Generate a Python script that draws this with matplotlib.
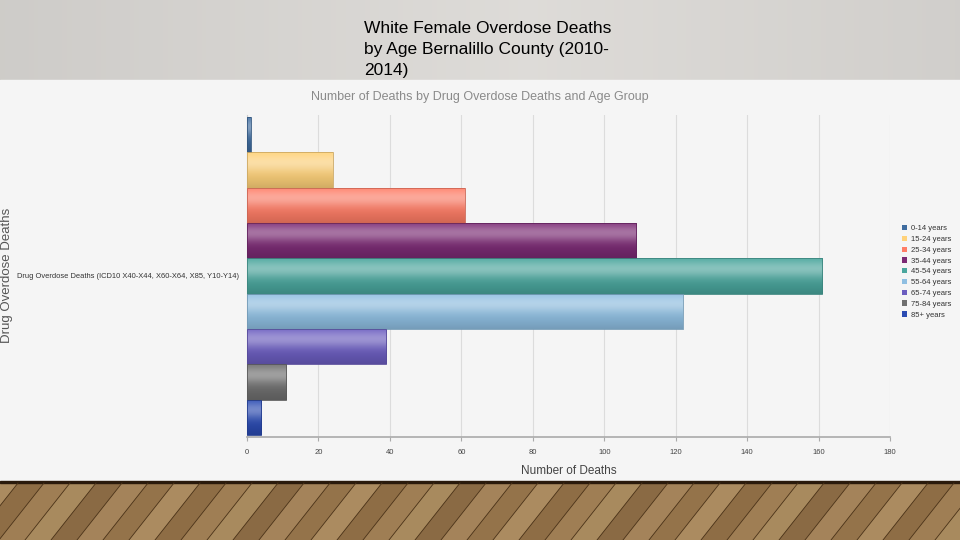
import numpy as np
import matplotlib
matplotlib.use("Agg")
import matplotlib.pyplot as plt
from matplotlib.patches import Rectangle, Patch, Polygon
from matplotlib.colors import to_rgb

age_groups = ['0-14 years', '15-24 years', '25-34 years', '35-44 years', '45-54 years',
              '55-64 years', '65-74 years', '75-84 years', '85+ years']
deaths = [1, 24, 61, 109, 161, 122, 39, 11, 4]
colors = ['#3f6c9f', '#ffd27a', '#ff7d66', '#7b2a74', '#4aa69d',
          '#8fbfe2', '#6b5dc0', '#6f6f6f', '#2b4bb2']
x_ticks = [0, 20, 40, 60, 80, 100, 120, 140, 160, 180]

category = 'Drug Overdose Deaths (ICD10 X40-X44, X60-X64, X85, Y10-Y14)'
slide_title = 'White Female Overdose Deaths\nby Age Bernalillo County (2010-\n2014)'
chart_title = 'Number of Deaths by Drug Overdose Deaths and Age Group'

narrow = ['Liberation Sans', 'DejaVu Sans']

fig = plt.figure(figsize=(9.6, 5.4), dpi=100)
fig.patch.set_facecolor('#f5f5f5')

# slide background in pixel coords
bg = fig.add_axes([0, 0, 1, 1], zorder=-10)
bg.axis('off')
grad = np.linspace(0, 1, 200)
head = 0.80 + 0.07 * (1 - np.abs(grad - 0.55) * 1.6)
head = np.clip(head, 0, 1)
bg.imshow(np.tile(head, (10, 1))[..., None] * np.array([1.0, 0.99, 0.975]),
          extent=[0, 960, 80, 0], aspect='auto')
bg.add_patch(Rectangle((0, 80), 960, 402, color='#f5f5f5'))
# wood floor
bg.add_patch(Rectangle((0, 482), 960, 58, color='#9a7a50'))
shades = ['#a4835a', '#94734a', '#ab8b60', '#8e6d45', '#9f7e54', '#a88a5e', '#8a6a44']
for i, x0 in enumerate(range(-60, 1040, 26)):
    bg.add_patch(Polygon([[x0, 483], [x0 + 26, 483], [x0 - 19, 540], [x0 - 45, 540]],
                         color=shades[i % len(shades)], lw=0))
    bg.plot([x0, x0 - 45], [483, 540], color='#4a3218', lw=0.6)
bg.add_patch(Rectangle((0, 481), 960, 2, color='#2a1a0c'))
bg.set_xlim(0, 960)
bg.set_ylim(540, 0)

fig.text(364 / 960, 1 - 21 / 540, slide_title, ha='left', va='top',
         fontsize=12.5, family='Liberation Sans', color='black', linespacing=1.5)
fig.text(480 / 960, 1 - 97 / 540, chart_title, ha='center', va='center',
         fontsize=9, family=narrow, color='#8a8a8a')

ax = fig.add_axes([247 / 960, (540 - 437) / 540, 643 / 960, 322 / 540])
ax.set_facecolor('#f5f5f5')
ypos = np.arange(len(deaths))
bars = ax.barh(ypos, deaths, height=1.0, color=colors, edgecolor='none', zorder=3)

# glossy vertical gradient on each bar
g = np.linspace(0, 1, 64)
light = 0.35 * np.exp(-((g - 0.3) / 0.25) ** 2)
for bar, c in zip(bars, colors):
    rgb = np.array(to_rgb(c))
    col = rgb[None, :] + (1 - rgb[None, :]) * light[:, None]
    col = col * (1 - 0.18 * g[:, None] ** 2)
    x0, y0 = bar.get_x(), bar.get_y()
    w, h = bar.get_width(), bar.get_height()
    im = ax.imshow(np.clip(col, 0, 1)[:, None, :], extent=[x0, x0 + w, y0 + h, y0],
                   aspect='auto', zorder=4)
    im.set_clip_path(bar)
    ax.add_patch(Rectangle((x0, y0), w, h, fill=False, edgecolor=rgb * 0.8, lw=0.6, zorder=5))

ax.set_xlim(0, 180)
ax.set_ylim(8.55, -0.55)
ax.set_xticks(x_ticks)
ax.set_xticklabels([str(t) for t in x_ticks], fontsize=5.5, family=narrow, color='#444444')
ax.set_yticks([4])
ax.set_yticklabels([category], fontsize=5.4, family=narrow, color='#333333')
ax.tick_params(axis='x', length=3, color='#aaaaaa', pad=6)
ax.tick_params(axis='y', length=0, pad=6)
ax.grid(axis='x', color='#dcdcdc', lw=0.8, zorder=0)
for s in ['top', 'right']:
    ax.spines[s].set_visible(False)
ax.spines['bottom'].set_color('#aaaaaa')
ax.spines['bottom'].set_linewidth(1.2)
ax.spines['left'].set_color('#cccccc')
ax.set_xlabel('Number of Deaths', fontsize=8.5, family=narrow, color='#444444', labelpad=6)

fig.text(7 / 960, 1 - 275 / 540, 'Drug Overdose Deaths', rotation=90, ha='center', va='center',
         fontsize=9.5, family='Liberation Sans', color='#555555')

handles = [Patch(facecolor=c, edgecolor='none') for c in colors]
fig.legend(handles, age_groups, loc='upper left', bbox_to_anchor=(902 / 960, 1 - 225 / 540),
           frameon=False, prop={'family': narrow, 'size': 5.5},
           handlelength=0.7, handleheight=0.7, handletextpad=0.5, labelspacing=0.45,
           borderaxespad=0, borderpad=0, labelcolor='#333333')

fig.savefig('out.png', dpi=100, facecolor=fig.get_facecolor())
